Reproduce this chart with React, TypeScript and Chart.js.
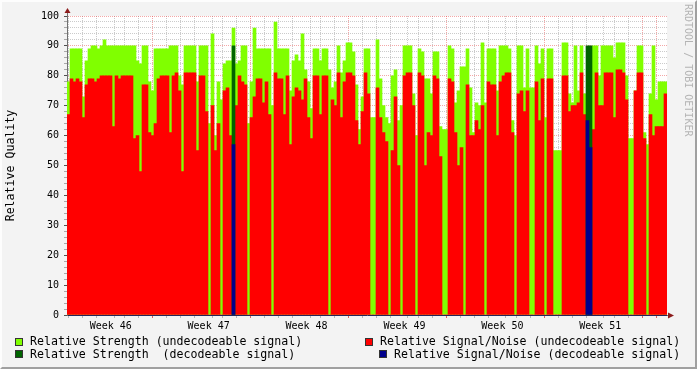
import React, { useEffect, useRef } from 'react';
import { Chart, registerables } from 'chart.js';

Chart.register(...registerables);

// Relative Strength (undecodeable signal), one value per time slot
const strength = [
  78, 89, 89, 89, 89, 73, 85, 89, 90, 90,
  89, 90, 92, 90, 90, 90, 90, 90, 90, 90,
  90, 90, 90, 85, 84, 90, 90, 78, 75, 89,
  89, 89, 89, 89, 90, 90, 90, 80, 77, 90,
  90, 90, 90, 78, 90, 90, 90, 64, 94, 60,
  78, 72, 84, 85, 85, 96, 84, 85, 90, 90,
  64, 78, 96, 89, 89, 89, 89, 89, 70, 98,
  89, 89, 89, 89, 75, 85, 87, 85, 94, 82,
  78, 69, 89, 89, 85, 89, 89, 82, 76, 78,
  90, 81, 85, 91, 91, 88, 77, 62, 73, 89,
  89, 66, 66, 92, 79, 70, 66, 64, 80, 82,
  65, 70, 90, 90, 90, 74, 60, 89, 88, 79,
  79, 74, 88, 88, 63, 62, 62, 90, 89, 71,
  75, 83, 83, 89, 76, 61, 71, 70, 91, 71,
  89, 89, 89, 75, 90, 90, 90, 89, 65, 60,
  90, 90, 76, 89, 76, 76, 90, 84, 89, 66,
  89, 89, 55, 55, 55, 91, 91, 74, 71, 90,
  75, 90, 74, 74, 74, 90, 90, 80, 90, 90,
  90, 90, 86, 91, 91, 91, 80, 59, 59, 75,
  90, 90, 61, 57, 74, 90, 72, 78, 78, 78,
];

// Relative Signal/Noise (undecodeable signal)
const signalNoise = [
  67, 79, 78, 79, 78, 66, 77, 79, 79, 78,
  79, 80, 80, 80, 80, 63, 80, 79, 80, 80,
  80, 80, 59, 60, 48, 77, 77, 61, 60, 64,
  79, 80, 80, 80, 61, 80, 81, 75, 48, 81,
  81, 81, 81, 55, 80, 80, 68, 0, 70, 55,
  64, 0, 75, 76, 60, 0, 70, 80, 78, 77,
  0, 66, 73, 79, 79, 71, 78, 67, 0, 81,
  79, 79, 67, 80, 57, 73, 76, 75, 72, 79,
  66, 59, 80, 80, 67, 80, 80, 0, 72, 70,
  81, 66, 78, 81, 81, 80, 65, 57, 68, 81,
  74, 0, 0, 76, 66, 61, 58, 0, 55, 73,
  50, 0, 80, 81, 81, 70, 0, 81, 80, 50,
  61, 60, 80, 79, 53, 0, 0, 79, 78, 61,
  50, 56, 0, 77, 60, 60, 65, 62, 70, 0,
  78, 77, 77, 60, 78, 80, 81, 81, 61, 0,
  74, 75, 68, 75, 0, 0, 78, 65, 79, 0,
  79, 79, 0, 0, 0, 80, 80, 68, 70, 70,
  71, 81, 67, 0, 0, 62, 81, 70, 70, 81,
  81, 81, 66, 82, 82, 81, 72, 0, 0, 75,
  81, 81, 59, 0, 67, 60, 63, 63, 63, 74,
];

// Decodeable signal: [slot index, value]
const strengthDecoded = [
  [55, 90],
  [173, 90],
  [174, 90],
];
const signalNoiseDecoded = [
  [55, 57],
  [173, 65],
  [174, 56],
];

// Time axis (days from the first day line); weeks
const weekLabels = ['Week 46', 'Week 47', 'Week 48', 'Week 49', 'Week 50', 'Week 51'];
const weekCenters = [2.5, 9.5, 16.5, 23.5, 30.5, 37.5];
const dayLines = Array.from({ length: 42 }, (_, i) => i);
const timeMin = -0.18;
const timeMax = 41.82;

const yMajorTicks = [0, 10, 20, 30, 40, 50, 60, 70, 80, 90, 100];

const legendItems = [
  { text: 'Relative Strength (undecodeable signal)', color: '#80ff00' },
  { text: 'Relative Signal/Noise (undecodeable signal)', color: '#ff0000' },
  { text: 'Relative Strength  (decodeable signal)', color: '#006400' },
  { text: 'Relative Signal/Noise (decodeable signal)', color: '#00008b' },
];

const MONO = "'DejaVu Sans Mono', monospace";
const GRID_MINOR = 'rgba(140,140,140,0.45)';
const GRID_MAJOR = 'rgba(230,60,60,0.45)';
const ARROW = '#8c1c1c';

const frameAndArrows = {
  id: 'frameAndArrows',
  beforeDraw(chart: any) {
    const { ctx, chartArea } = chart;
    ctx.save();
    ctx.fillStyle = '#ffffff';
    ctx.fillRect(chartArea.left, chartArea.top, chartArea.right - chartArea.left, chartArea.bottom - chartArea.top);
    ctx.restore();
  },
  afterDraw(chart: any) {
    const { ctx, chartArea } = chart;
    const { left, top, right, bottom } = chartArea;
    ctx.save();
    ctx.fillStyle = ARROW;
    ctx.strokeStyle = '#707070';
    ctx.lineWidth = 1;
    ctx.beginPath();
    ctx.moveTo(left + 0.5, top);
    ctx.lineTo(left + 0.5, top - 3);
    ctx.stroke();
    ctx.beginPath();
    ctx.moveTo(left - 2.5, top - 3);
    ctx.lineTo(left + 3.5, top - 3);
    ctx.lineTo(left + 0.5, top - 8);
    ctx.closePath();
    ctx.fill();
    ctx.beginPath();
    ctx.moveTo(right, bottom + 0.5);
    ctx.lineTo(right + 2, bottom + 0.5);
    ctx.stroke();
    ctx.beginPath();
    ctx.moveTo(right + 1, bottom - 2.5);
    ctx.lineTo(right + 1, bottom + 3.5);
    ctx.lineTo(right + 7, bottom + 0.5);
    ctx.closePath();
    ctx.fill();
    ctx.restore();
  },
};

export default function App() {
  const ref = useRef<HTMLCanvasElement>(null);

  useEffect(() => {
    const canvas = ref.current;
    if (!canvas) return;
    const labels = strength.map((_, i) => i);
    const toPoints = (arr: number[][]) => arr.map(([x, y]) => ({ x, y }));
    const chart = new Chart(canvas, {
      type: 'bar',
      data: {
        labels,
        datasets: [
          {
            label: 'Relative Signal/Noise (decodeable signal)',
            data: toPoints(signalNoiseDecoded) as any,
            backgroundColor: '#00008b',
            order: 0,
            xAxisID: 'x',
            yAxisID: 'y',
          },
          {
            label: 'Relative Strength (decodeable signal)',
            data: toPoints(strengthDecoded) as any,
            backgroundColor: '#006400',
            order: 1,
            xAxisID: 'x',
            yAxisID: 'y',
          },
          {
            label: 'Relative Signal/Noise (undecodeable signal)',
            data: signalNoise,
            backgroundColor: '#ff0000',
            order: 2,
            xAxisID: 'x',
            yAxisID: 'y',
          },
          {
            label: 'Relative Strength (undecodeable signal)',
            data: strength,
            backgroundColor: '#80ff00',
            order: 3,
            xAxisID: 'x',
            yAxisID: 'y',
          },
        ],
      },
      options: {
        animation: false,
        responsive: false,
        devicePixelRatio: 1,
        layout: { padding: { left: 0, top: 16, right: 30, bottom: 0 } },
        datasets: {
          bar: {
            grouped: false,
            barPercentage: 1,
            categoryPercentage: 1,
            borderWidth: 0,
          },
        } as any,
        plugins: {
          legend: { display: false },
          tooltip: { enabled: false },
        },
        scales: {
          x: {
            type: 'category',
            display: false,
          },
          t: {
            type: 'linear',
            axis: 'x',
            position: 'bottom',
            min: timeMin,
            max: timeMax,
            bounds: 'data',
            z: 1,
            afterFit: (s: any) => {
              s.height = 54;
            },
            afterBuildTicks: (s: any) => {
              const vals = [...dayLines, ...weekCenters].sort((a, b) => a - b);
              s.ticks = vals.map((v) => ({ value: v }));
            },
            grid: {
              color: (c: any) => {
                const v = c.tick ? c.tick.value : -1;
                if (!Number.isInteger(v)) return 'rgba(0,0,0,0)';
                return (v + 1) % 7 === 0 ? GRID_MAJOR : GRID_MINOR;
              },
              tickColor: (c: any) => {
                const v = c.tick ? c.tick.value : -1;
                if (!Number.isInteger(v)) return 'rgba(0,0,0,0)';
                return (v + 1) % 7 === 0 ? 'rgba(200,40,40,0.7)' : 'rgba(120,120,120,0.5)';
              },
              tickLength: 3,
              lineWidth: 1,
            },
            border: { display: true, color: '#25255a', width: 1, dash: [1, 1] },
            ticks: {
              autoSkip: false,
              maxRotation: 0,
              padding: 2,
              color: '#000',
              font: { family: MONO, size: 10 },
              callback: (value: any) => {
                const k = weekCenters.indexOf(Number(value));
                return k >= 0 ? weekLabels[k] : '';
              },
            },
          } as any,
          y: {
            type: 'linear',
            position: 'left',
            min: 0,
            max: 100,
            z: 1,
            afterFit: (s: any) => {
              s.width = 67;
            },
            afterBuildTicks: (s: any) => {
              const vals: number[] = [];
              for (let v = 0; v <= 100; v += 2) vals.push(v);
              s.ticks = vals.map((v) => ({ value: v }));
            },
            grid: {
              color: (c: any) => {
                const v = c.tick ? c.tick.value : -1;
                if (v === 0) return 'rgba(0,0,0,0)';
                return yMajorTicks.includes(v) ? GRID_MAJOR : GRID_MINOR;
              },
              tickColor: (c: any) => {
                const v = c.tick ? c.tick.value : -1;
                return yMajorTicks.includes(v) ? '#505050' : 'rgba(120,120,120,0.6)';
              },
              tickLength: 3,
              lineWidth: 1,
            },
            border: { display: true, color: '#707070', width: 1, dash: [1, 1] },
            ticks: {
              autoSkip: false,
              padding: 5,
              color: '#000',
              font: { family: MONO, size: 10 },
              callback: (value: any) => (yMajorTicks.includes(Number(value)) ? String(value) : ''),
            },
            title: {
              display: true,
              text: 'Relative Quality',
              color: '#000',
              font: { family: MONO, size: 11.6 },
              padding: { top: 4, bottom: 0 },
            },
          } as any,
        },
      },
      plugins: [frameAndArrows],
    });
    return () => chart.destroy();
  }, []);

  const textStyle: React.CSSProperties = {
    position: 'absolute',
    fontFamily: MONO,
    fontSize: '11.6px',
    lineHeight: '14px',
    whiteSpace: 'pre',
    color: '#000',
  };
  const sq = (left: number, top: number, color: string): React.CSSProperties => ({
    position: 'absolute',
    left,
    top,
    width: 8,
    height: 8,
    boxSizing: 'border-box',
    border: '1px solid #333',
    background: color,
  });

  return (
    <div
      style={{
        position: 'fixed',
        left: 0,
        top: 0,
        width: 697,
        height: 369,
        background: '#f3f3f3',
        overflow: 'hidden',
      }}
    >
      <canvas ref={ref} width={697} height={369} style={{ position: 'absolute', left: 0, top: 0, width: 697, height: 369, display: 'block' }} />
      <div style={sq(15, 338, legendItems[0].color)} />
      <div style={{ ...textStyle, left: 30, top: 334 }}>{legendItems[0].text}</div>
      <div style={sq(365, 338, legendItems[1].color)} />
      <div style={{ ...textStyle, left: 380, top: 334 }}>{legendItems[1].text}</div>
      <div style={sq(15, 350, legendItems[2].color)} />
      <div style={{ ...textStyle, left: 30, top: 347 }}>{legendItems[2].text}</div>
      <div style={sq(379, 350, legendItems[3].color)} />
      <div style={{ ...textStyle, left: 394, top: 347 }}>{legendItems[3].text}</div>
      <div
        style={{
          position: 'absolute',
          left: 682,
          top: 4,
          writingMode: 'vertical-rl',
          fontFamily: MONO,
          fontSize: '10px',
          lineHeight: '12px',
          whiteSpace: 'pre',
          color: '#b4b4b4',
        }}
      >
        RRDTOOL / TOBI OETIKER
      </div>
      <div
        style={{
          position: 'absolute',
          left: 0,
          top: 0,
          width: 697,
          height: 369,
          boxSizing: 'border-box',
          borderTop: '2px solid #fdfdfd',
          borderLeft: '2px solid #fdfdfd',
          borderRight: '2px solid #a0a0a0',
          borderBottom: '2px solid #a0a0a0',
          pointerEvents: 'none',
        }}
      />
    </div>
  );
}
